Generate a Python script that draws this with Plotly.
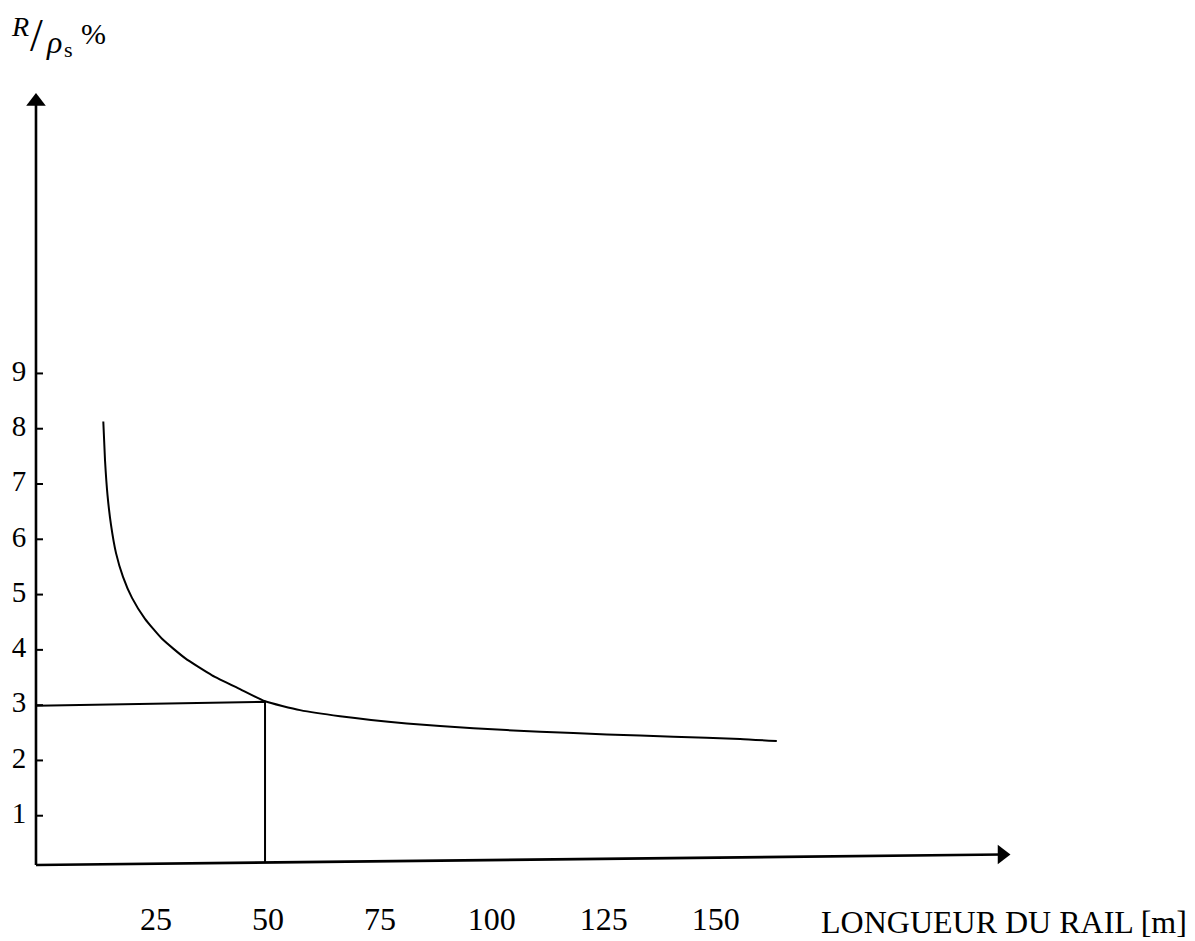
import plotly.graph_objects as go

# ---- data ----
length_m = [13.24, 13.62, 14.18, 14.96, 16.08, 17.64, 19.65, 22.55, 26.35, 31.49, 37.52,
            43.77, 49.35, 57.17, 66.10, 81.0, 95.87, 110.76, 125.66, 140.53, 155.43, 163.62]
ratio_pct = [8.13, 7.43, 6.80, 6.26, 5.75, 5.32, 4.94, 4.56, 4.20, 3.85, 3.54,
             3.29, 3.07, 2.91, 2.80, 2.67, 2.58, 2.52, 2.47, 2.43, 2.39, 2.35]

x_tick_vals = [25, 50, 75, 100, 125, 150]
x_tick_text = ["25", "50", "75", "100", "125", "150"]
y_tick_vals = [1, 2, 3, 4, 5, 6, 7, 8, 9]
y_tick_text = ["1", "2", "3", "4", "5", "6", "7", "8", "9"]

# reading guide (length 50 m -> about 3 %)
guide_x = [-1.79, 49.35, 49.35]
guide_y = [2.99, 3.06, 0.15]

# hand-drawn axes
axis_x0, axis_y0 = -1.79, 0.108
x_axis_end = (213.9, 0.298)
y_axis_top = 13.92
tick_end_x = -0.22

x_title = "LONGUEUR DU RAIL [m]"

# the page body has an 8px default margin: the figure fills the rest of the window
OFF = 8
W, H = 1195 - OFF, 941 - OFF
XR = [-8.04, 257.0]
YR = [-1.266, 15.61]
FONT = "Liberation Serif"
BLACK = "#000000"

fig = go.Figure()

# y axis
fig.add_trace(go.Scatter(x=[axis_x0, axis_x0], y=[axis_y0, y_axis_top], mode="lines",
                         line=dict(color=BLACK, width=2.6), hoverinfo="skip"))
fig.add_trace(go.Scatter(x=[axis_x0], y=[y_axis_top], mode="markers",
                         marker=dict(symbol="triangle-up", size=17, color=BLACK),
                         hoverinfo="skip"))
# x axis (slightly sloped, as drawn)
fig.add_trace(go.Scatter(x=[axis_x0, x_axis_end[0]], y=[axis_y0, x_axis_end[1]], mode="lines",
                         line=dict(color=BLACK, width=2.6), hoverinfo="skip"))
fig.add_trace(go.Scatter(x=[x_axis_end[0]], y=[x_axis_end[1]], mode="markers",
                         marker=dict(symbol="triangle-right", size=17, color=BLACK),
                         hoverinfo="skip"))

# y ticks
tx, ty = [], []
for v in y_tick_vals:
    tx += [axis_x0, tick_end_x, None]
    ty += [v, v, None]
fig.add_trace(go.Scatter(x=tx, y=ty, mode="lines", line=dict(color=BLACK, width=2),
                         hoverinfo="skip"))

# y tick labels
fig.add_trace(go.Scatter(x=[-5.6] * len(y_tick_vals), y=y_tick_vals, mode="text",
                         text=y_tick_text, textposition="middle center",
                         textfont=dict(family=FONT, size=29, color=BLACK), hoverinfo="skip"))
# x tick labels
fig.add_trace(go.Scatter(x=x_tick_vals, y=[-0.92] * len(x_tick_vals), mode="text",
                         text=x_tick_text, textposition="middle center",
                         textfont=dict(family=FONT, size=32, color=BLACK), hoverinfo="skip"))

# guide lines
fig.add_trace(go.Scatter(x=guide_x, y=guide_y, mode="lines",
                         line=dict(color=BLACK, width=2), hoverinfo="skip"))

# curve
fig.add_trace(go.Scatter(x=length_m, y=ratio_pct, mode="lines",
                         line=dict(color=BLACK, width=2, shape="spline", smoothing=0.5)))

# x axis title
fig.add_annotation(x=214.4, y=-0.92, xref="x", yref="y", text=x_title, showarrow=False,
                   xanchor="center", yanchor="middle",
                   font=dict(family=FONT, size=32, color=BLACK))

# y axis title R/ρs %  (positions given in window pixels)
def pa(px, py, text, size, italic=False):
    t = f"<i>{text}</i>" if italic else text
    fig.add_annotation(x=(px - OFF) / W, y=1 - (py - OFF) / H, xref="paper", yref="paper",
                       text=t, showarrow=False, xanchor="center", yanchor="middle",
                       font=dict(family=FONT, size=size, color=BLACK))

pa(20, 27, "R", 28, italic=True)
pa(36, 36, "/", 46)
pa(54, 42, "ρ", 32, italic=True)
pa(68, 49, "s", 22)
pa(93, 34, "%", 30)

fig.update_layout(
    width=W, height=H, autosize=False,
    margin=dict(l=0, r=0, t=0, b=0),
    paper_bgcolor="white", plot_bgcolor="white",
    showlegend=False,
    xaxis=dict(range=XR, visible=False, fixedrange=True),
    yaxis=dict(range=YR, visible=False, fixedrange=True),
)

fig.write_html("out.html")
